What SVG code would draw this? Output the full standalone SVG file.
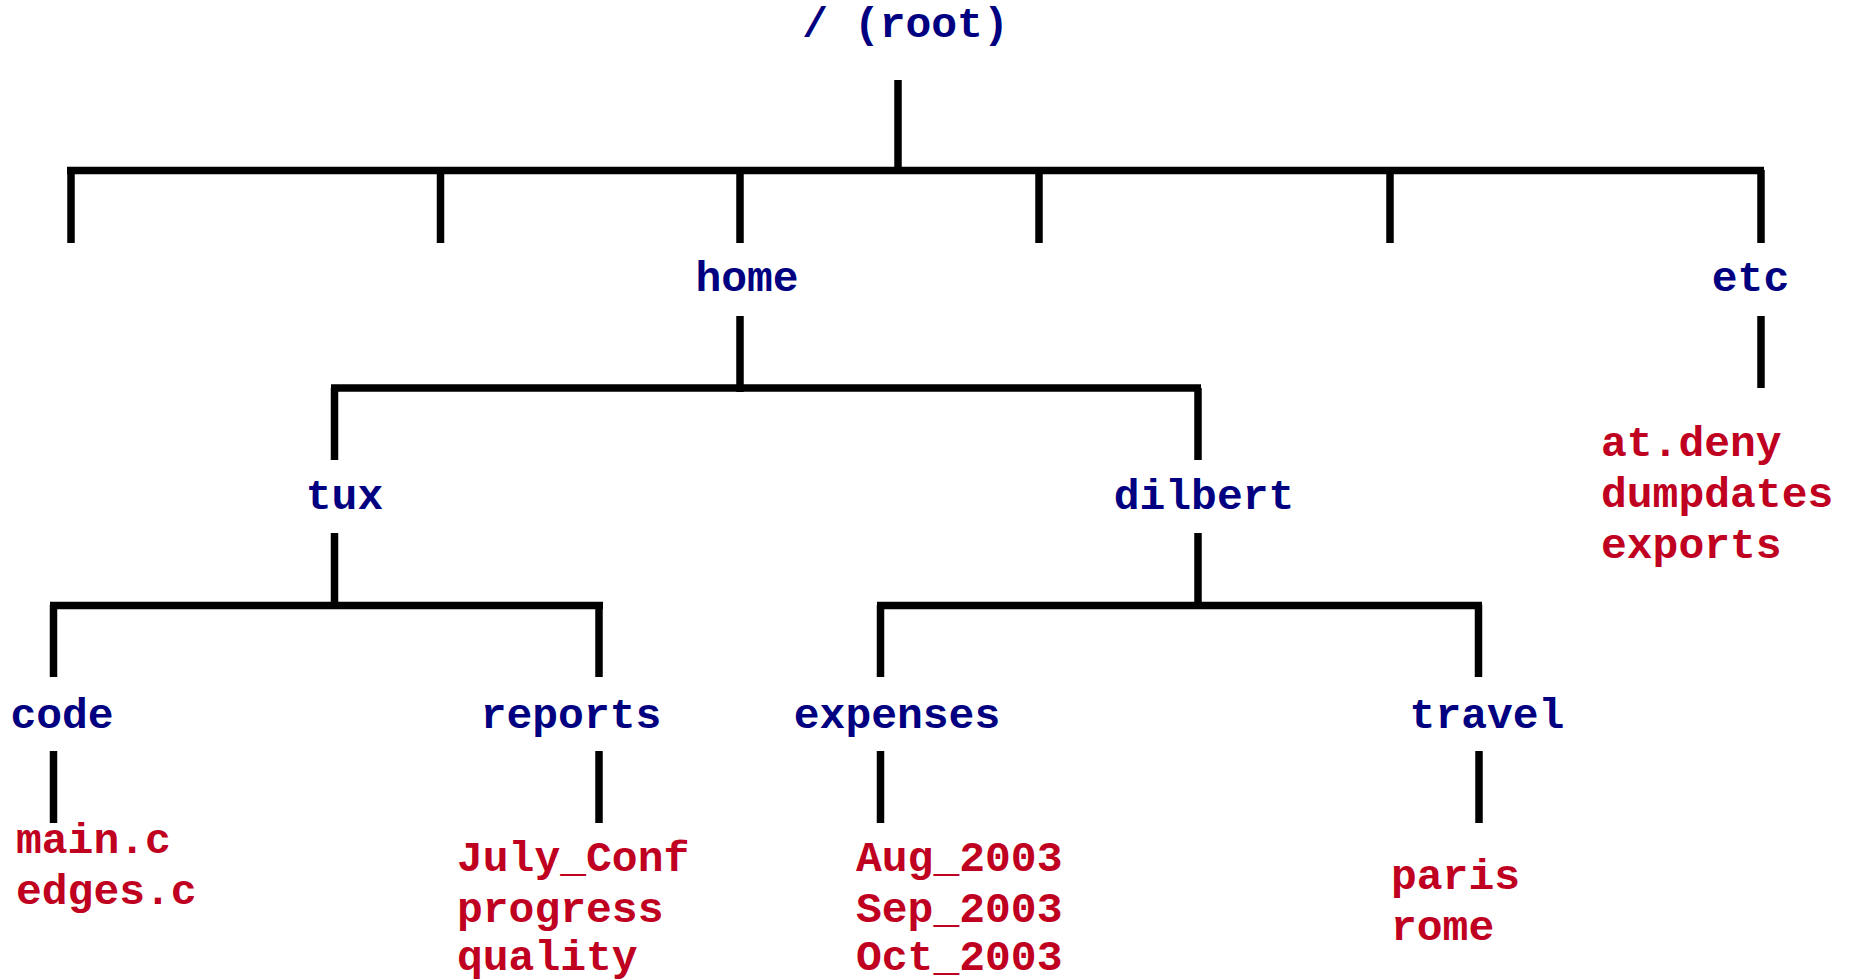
<svg xmlns="http://www.w3.org/2000/svg" width="1853" height="980" viewBox="0 0 1853 980">
  <style>
    .dir { font-family: "Liberation Mono", "Courier New", monospace; font-weight: bold; font-size: 43px; fill: #000080; text-anchor: middle; }
    .file { font-family: "Liberation Mono", "Courier New", monospace; font-weight: bold; font-size: 43px; fill: #c00020; }
    .edge { stroke: #000; stroke-width: 7.5; fill: none; stroke-linecap: butt; }
  </style>
  <rect width="1853" height="980" fill="#fff"/>

  <!-- tree connectors -->
  <g id="connectors" class="edge">
    <!-- root level -->
    <line x1="898" y1="80" x2="898" y2="171"/>
    <line x1="67" y1="170.5" x2="1764" y2="170.5"/>
    <line x1="71" y1="170" x2="71" y2="243"/>
    <line x1="440.5" y1="170" x2="440.5" y2="243"/>
    <line x1="740" y1="170" x2="740" y2="243"/>
    <line x1="1039" y1="170" x2="1039" y2="243"/>
    <line x1="1390" y1="170" x2="1390" y2="243"/>
    <line x1="1761" y1="170" x2="1761" y2="243"/>
    <!-- home -->
    <line x1="740" y1="316" x2="740" y2="392"/>
    <line x1="331" y1="388" x2="1201" y2="388"/>
    <line x1="334.5" y1="388" x2="334.5" y2="460"/>
    <line x1="1198" y1="388" x2="1198" y2="460"/>
    <!-- etc -->
    <line x1="1761" y1="316" x2="1761" y2="388"/>
    <!-- tux -->
    <line x1="334.5" y1="533" x2="334.5" y2="609"/>
    <line x1="50" y1="605.5" x2="603" y2="605.5"/>
    <line x1="53.5" y1="605" x2="53.5" y2="677"/>
    <line x1="599" y1="605" x2="599" y2="677"/>
    <!-- dilbert -->
    <line x1="1198" y1="533" x2="1198" y2="609"/>
    <line x1="877" y1="605.5" x2="1482" y2="605.5"/>
    <line x1="880.5" y1="605" x2="880.5" y2="677"/>
    <line x1="1478.5" y1="605" x2="1478.5" y2="677"/>
    <!-- leaf directories -->
    <line x1="53.5" y1="751" x2="53.5" y2="823"/>
    <line x1="599" y1="751" x2="599" y2="823"/>
    <line x1="880.5" y1="751" x2="880.5" y2="823"/>
    <line x1="1479" y1="751" x2="1479" y2="823"/>
  </g>

  <g id="root"><text class="dir" x="905.5" y="37">/ (root)</text></g>
  <g id="home"><text class="dir" x="747" y="291">home</text></g>
  <g id="etc"><text class="dir" x="1750.5" y="291">etc</text></g>
  <g id="tux"><text class="dir" x="344.5" y="509">tux</text></g>
  <g id="dilbert"><text class="dir" x="1204" y="509">dilbert</text></g>
  <g id="code"><text class="dir" x="62" y="728">code</text></g>
  <g id="reports"><text class="dir" x="571" y="728">reports</text></g>
  <g id="expenses"><text class="dir" x="897" y="728">expenses</text></g>
  <g id="travel"><text class="dir" x="1487" y="728">travel</text></g>

  <g id="etc-files">
    <text class="file" x="1601" y="456">at.deny</text>
    <text class="file" x="1601" y="507">dumpdates</text>
    <text class="file" x="1601" y="558">exports</text>
  </g>
  <g id="code-files">
    <text class="file" x="16" y="853">main.c</text>
    <text class="file" x="16" y="904">edges.c</text>
  </g>
  <g id="reports-files">
    <text class="file" x="457" y="871">July_Conf</text>
    <text class="file" x="457" y="922">progress</text>
    <text class="file" x="457" y="970">quality</text>
  </g>
  <g id="expenses-files">
    <text class="file" x="856" y="871">Aug_2003</text>
    <text class="file" x="856" y="922">Sep_2003</text>
    <text class="file" x="856" y="970">Oct_2003</text>
  </g>
  <g id="travel-files">
    <text class="file" x="1391" y="889">paris</text>
    <text class="file" x="1391" y="940">rome</text>
  </g>
</svg>
